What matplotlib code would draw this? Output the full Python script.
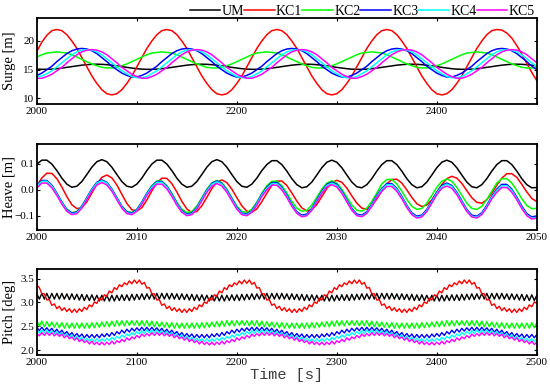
import numpy as np
import matplotlib
matplotlib.use('Agg')
import matplotlib.pyplot as plt
from matplotlib.ticker import MultipleLocator

plt.rcParams['font.family'] = 'Liberation Serif'

labels = ['UM', 'KC1', 'KC2', 'KC3', 'KC4', 'KC5']
colors = ['#000000', '#ff0000', '#00ff00', '#0000ff', '#00ffff', '#ff00ff']

# sample times of the three records
t_surge = np.arange(2000, 2501, 5)
t_heave = np.linspace(2000, 2050, 101)
t_pitch = np.linspace(2000, 2500, 201)

# ---- surge [m], read every 5 s ----
surge_um = [
    15.09, 15.06, 15.06, 15.09, 15.17, 15.28, 15.40, 15.53, 15.66, 15.78, 15.87, 15.93,
    15.95, 15.93, 15.87, 15.78, 15.66, 15.53, 15.40, 15.28, 15.17, 15.09, 15.06, 15.06, 15.09, 15.17, 15.28, 15.40, 15.53, 15.66, 15.78, 15.87, 15.93,
    15.95, 15.93, 15.87, 15.78, 15.66, 15.53, 15.40, 15.28, 15.17, 15.09, 15.06, 15.06, 15.09, 15.17, 15.28, 15.40, 15.53, 15.66, 15.78, 15.87, 15.93,
    15.95, 15.93, 15.87, 15.78, 15.66, 15.53, 15.40, 15.28, 15.17, 15.09, 15.06, 15.06, 15.09, 15.17, 15.28, 15.40, 15.53, 15.66, 15.78, 15.87, 15.93,
    15.95, 15.93, 15.87, 15.78, 15.66, 15.53, 15.40, 15.28, 15.17, 15.09, 15.06, 15.06, 15.09, 15.17, 15.28, 15.40, 15.53, 15.66, 15.78, 15.87, 15.93,
    15.95, 15.93, 15.87, 15.78, 15.66]
surge_kc1 = [
    18.2, 19.8, 21.0, 21.8,
    22.0, 21.8, 21.1, 20.0, 18.7, 17.1, 15.5, 13.9, 12.6, 11.5, 10.8, 10.6, 10.8, 11.5, 12.6, 13.9, 15.5, 17.1, 18.7, 20.0, 21.1, 21.8,
    22.0, 21.8, 21.1, 20.0, 18.7, 17.1, 15.5, 13.9, 12.6, 11.5, 10.8, 10.6, 10.8, 11.5, 12.6, 13.9, 15.5, 17.1, 18.7, 20.0, 21.1, 21.8,
    22.0, 21.8, 21.1, 20.0, 18.7, 17.1, 15.5, 13.9, 12.6, 11.5, 10.8, 10.6, 10.8, 11.5, 12.6, 13.9, 15.5, 17.1, 18.7, 20.0, 21.1, 21.8,
    22.0, 21.8, 21.1, 20.0, 18.7, 17.1, 15.5, 13.9, 12.6, 11.5, 10.8, 10.6, 10.8, 11.5, 12.6, 13.9, 15.5, 17.1, 18.7, 20.0, 21.1, 21.8,
    22.0, 21.9, 21.4, 20.5, 19.2, 17.7, 16.1, 14.5, 13.1]
surge_kc2 = [
    17.2, 17.6, 17.9, 18.0,
    18.1, 18.0, 17.9, 17.6, 17.2, 16.8, 16.4, 16.0, 15.7, 15.4, 15.3, 15.3, 15.4, 15.7, 16.0, 16.4, 16.8, 17.2, 17.6, 17.9, 18.0,
    18.1, 18.0, 17.9, 17.6, 17.2, 16.8, 16.4, 16.0, 15.7, 15.4, 15.3, 15.3, 15.4, 15.7, 16.0, 16.4, 16.8, 17.2, 17.6, 17.9, 18.0,
    18.1, 18.0, 17.9, 17.6, 17.2, 16.8, 16.4, 16.0, 15.7, 15.4, 15.3, 15.3, 15.4, 15.7, 16.0, 16.4, 16.8, 17.2, 17.6, 17.9, 18.0,
    18.1, 18.0, 17.9, 17.6, 17.2, 16.8, 16.4, 16.0, 15.7, 15.4, 15.3, 15.3, 15.4, 15.7, 16.0, 16.4, 16.8, 17.2, 17.6, 17.9, 18.0,
    18.1, 18.0, 17.9, 17.6, 17.2, 16.8, 16.4, 16.0, 15.7, 15.4, 15.3, 15.3, 15.4]
surge_kc3 = [
    14.0, 14.4, 15.0, 15.6, 16.4, 17.1, 17.8, 18.3, 18.6,
    18.7, 18.6, 18.3, 17.8, 17.1, 16.4, 15.6, 15.0, 14.4, 14.0, 13.7, 13.7, 14.0, 14.4, 15.0, 15.6, 16.4, 17.1, 17.8, 18.3, 18.6,
    18.7, 18.6, 18.3, 17.8, 17.1, 16.4, 15.6, 15.0, 14.4, 14.0, 13.7, 13.7, 14.0, 14.4, 15.0, 15.6, 16.4, 17.1, 17.8, 18.3, 18.6,
    18.7, 18.6, 18.3, 17.8, 17.1, 16.4, 15.6, 15.0, 14.4, 14.0, 13.7, 13.7, 14.0, 14.4, 15.0, 15.6, 16.4, 17.1, 17.8, 18.3, 18.6,
    18.7, 18.6, 18.3, 17.8, 17.1, 16.4, 15.6, 15.0, 14.4, 14.0, 13.7, 13.7, 14.0, 14.4, 15.0, 15.6, 16.4, 17.1, 17.8, 18.3, 18.6,
    18.7, 18.6, 18.3, 17.8, 17.1, 16.4, 15.6, 15.0]
surge_kc4 = [
    13.8, 13.9, 14.3, 14.8, 15.5, 16.2, 16.9, 17.6, 18.1, 18.4,
    18.5, 18.4, 18.1, 17.6, 16.9, 16.2, 15.5, 14.8, 14.3, 13.8, 13.6, 13.6, 13.8, 14.3, 14.8, 15.5, 16.2, 16.9, 17.6, 18.1, 18.4,
    18.5, 18.4, 18.1, 17.6, 16.9, 16.2, 15.5, 14.8, 14.3, 13.8, 13.6, 13.6, 13.8, 14.3, 14.8, 15.5, 16.2, 16.9, 17.6, 18.1, 18.4,
    18.5, 18.4, 18.1, 17.6, 16.9, 16.2, 15.5, 14.8, 14.3, 13.8, 13.6, 13.6, 13.8, 14.3, 14.8, 15.5, 16.2, 16.9, 17.6, 18.1, 18.4,
    18.5, 18.4, 18.1, 17.6, 16.9, 16.2, 15.5, 14.8, 14.3, 13.8, 13.6, 13.6, 13.8, 14.3, 14.8, 15.5, 16.2, 16.9, 17.6, 18.1, 18.4,
    18.5, 18.4, 18.1, 17.6, 16.9, 16.2, 15.5]
surge_kc5 = [
    13.5, 13.5, 13.8, 14.2, 14.8, 15.4, 16.2, 16.9, 17.6, 18.1, 18.4,
    18.5, 18.4, 18.1, 17.6, 16.9, 16.2, 15.4, 14.8, 14.2, 13.8, 13.5, 13.5, 13.8, 14.2, 14.8, 15.4, 16.2, 16.9, 17.6, 18.1, 18.4,
    18.5, 18.4, 18.1, 17.6, 16.9, 16.2, 15.4, 14.8, 14.2, 13.8, 13.5, 13.5, 13.8, 14.2, 14.8, 15.4, 16.2, 16.9, 17.6, 18.1, 18.4,
    18.5, 18.4, 18.1, 17.6, 16.9, 16.2, 15.4, 14.8, 14.2, 13.8, 13.5, 13.5, 13.8, 14.2, 14.8, 15.4, 16.2, 16.9, 17.6, 18.1, 18.4,
    18.5, 18.4, 18.1, 17.6, 16.9, 16.2, 15.4, 14.8, 14.2, 13.8, 13.5, 13.5, 13.8, 14.2, 14.8, 15.4, 16.2, 16.9, 17.6, 18.1, 18.4,
    18.5, 18.4, 18.1, 17.6, 16.9, 16.2]

# ---- heave [m], read every 0.5 s ----
heave_um = [
    0.098, 0.113, 0.113, 0.098, 0.073, 0.044, 0.021, 0.009, 0.013, 0.031, 0.058, 0.086, 0.107, 0.115, 0.107, 0.086, 0.058, 0.031, 0.013, 0.009, 0.021, 0.044, 0.073,
    0.098, 0.113, 0.113, 0.098, 0.073, 0.044, 0.021, 0.009, 0.013, 0.031, 0.058, 0.086, 0.107, 0.115, 0.107, 0.086, 0.058, 0.031, 0.013, 0.009, 0.021, 0.044, 0.073,
    0.096, 0.111, 0.111, 0.096, 0.071, 0.042, 0.019, 0.007, 0.011, 0.029, 0.056, 0.084, 0.105, 0.113, 0.105, 0.084, 0.056, 0.029, 0.011, 0.007, 0.019, 0.042, 0.071,
    0.096, 0.111, 0.111, 0.096, 0.071, 0.042, 0.019, 0.007, 0.011, 0.029, 0.056, 0.084, 0.105, 0.113, 0.105, 0.084, 0.056, 0.029, 0.011, 0.007, 0.019, 0.042, 0.071,
    0.096, 0.111, 0.111, 0.096, 0.071, 0.042, 0.019, 0.007, 0.008]
heave_kc1 = [
    0.014, 0.045, 0.063, 0.062, 0.042, 0.010, -0.027, -0.058, -0.073, -0.069, -0.047, -0.013, 0.021, 0.047, 0.056, 0.045, 0.018, -0.018, -0.053, -0.077, -0.082, -0.069, -0.040,
    -0.005, 0.026, 0.044, 0.043, 0.023, -0.009, -0.045, -0.074, -0.088, -0.084, -0.062, -0.030, 0.004, 0.028, 0.037, 0.027, 0.002, -0.031, -0.062, -0.083, -0.087, -0.074, -0.046,
    -0.014, 0.016, 0.033, 0.033, 0.016, -0.013, -0.044, -0.070, -0.082, -0.077, -0.057, -0.027, 0.004, 0.027, 0.036, 0.028, 0.006, -0.024, -0.052, -0.071, -0.075, -0.062, -0.036,
    -0.005, 0.022, 0.039, 0.040, 0.025, -0.001, -0.030, -0.054, -0.065, -0.059, -0.040, -0.011, 0.019, 0.042, 0.051, 0.044, 0.024, -0.004, -0.031, -0.049, -0.052, -0.039, -0.014,
    0.017, 0.044, 0.061, 0.061, 0.047, 0.020, -0.009, -0.034, -0.046]
heave_kc2 = [
    0.015, 0.033, 0.033, 0.015, -0.014, -0.048, -0.075, -0.088, -0.084, -0.063, -0.031, 0.002, 0.026, 0.035, 0.026, 0.002, -0.031, -0.063, -0.084, -0.088, -0.075, -0.048, -0.014,
    0.015, 0.033, 0.033, 0.015, -0.014, -0.048, -0.075, -0.088, -0.084, -0.063, -0.031, 0.002, 0.026, 0.035, 0.026, 0.002, -0.031, -0.063, -0.084, -0.088, -0.075, -0.048, -0.014,
    0.015, 0.032, 0.032, 0.015, -0.013, -0.045, -0.071, -0.083, -0.079, -0.059, -0.029, 0.002, 0.025, 0.034, 0.025, 0.002, -0.029, -0.059, -0.079, -0.083, -0.071, -0.045, -0.013,
    0.022, 0.039, 0.039, 0.022, -0.006, -0.038, -0.064, -0.076, -0.072, -0.052, -0.022, 0.009, 0.032, 0.041, 0.032, 0.009, -0.022, -0.052, -0.072, -0.076, -0.064, -0.038, -0.006,
    0.025, 0.042, 0.042, 0.025, -0.003, -0.035, -0.061, -0.073, -0.072]
heave_kc3 = [
    0.017, 0.035, 0.035, 0.017, -0.014, -0.048, -0.077, -0.090, -0.086, -0.064, -0.031, 0.002, 0.028, 0.037, 0.028, 0.002, -0.031, -0.064, -0.086, -0.090, -0.077, -0.048, -0.014,
    0.013, 0.031, 0.031, 0.013, -0.018, -0.052, -0.081, -0.094, -0.090, -0.068, -0.035, -0.002, 0.024, 0.033, 0.024, -0.002, -0.035, -0.068, -0.090, -0.094, -0.081, -0.052, -0.018,
    0.009, 0.027, 0.027, 0.009, -0.022, -0.056, -0.085, -0.098, -0.094, -0.072, -0.039, -0.006, 0.020, 0.029, 0.020, -0.006, -0.039, -0.072, -0.094, -0.098, -0.085, -0.056, -0.022,
    0.005, 0.023, 0.023, 0.005, -0.026, -0.060, -0.089, -0.102, -0.098, -0.076, -0.043, -0.010, 0.016, 0.025, 0.016, -0.010, -0.043, -0.076, -0.098, -0.102, -0.089, -0.060, -0.026,
    0.002, 0.020, 0.020, 0.002, -0.029, -0.063, -0.092, -0.105, -0.101]
heave_kc4 = [
    0.014, 0.032, 0.032, 0.014, -0.017, -0.051, -0.080, -0.093, -0.089, -0.067, -0.034, -0.001, 0.025, 0.034, 0.025, -0.001, -0.034, -0.067, -0.089, -0.093, -0.080, -0.051, -0.017,
    0.010, 0.028, 0.028, 0.010, -0.021, -0.055, -0.084, -0.097, -0.093, -0.071, -0.038, -0.005, 0.021, 0.030, 0.021, -0.005, -0.038, -0.071, -0.093, -0.097, -0.084, -0.055, -0.021,
    0.005, 0.023, 0.023, 0.005, -0.026, -0.060, -0.089, -0.102, -0.098, -0.076, -0.043, -0.010, 0.016, 0.025, 0.016, -0.010, -0.043, -0.076, -0.098, -0.102, -0.089, -0.060, -0.026,
    0.001, 0.019, 0.019, 0.001, -0.030, -0.064, -0.093, -0.106, -0.102, -0.080, -0.047, -0.014, 0.012, 0.021, 0.012, -0.014, -0.047, -0.080, -0.102, -0.106, -0.093, -0.064, -0.030,
    -0.003, 0.015, 0.015, -0.003, -0.034, -0.068, -0.097, -0.110, -0.106]
heave_kc5 = [
    0.007, 0.025, 0.025, 0.007, -0.022, -0.056, -0.083, -0.096, -0.092, -0.071, -0.039, -0.006, 0.018, 0.027, 0.018, -0.006, -0.039, -0.071, -0.092, -0.096, -0.083, -0.056, -0.022,
    0.003, 0.021, 0.021, 0.003, -0.026, -0.060, -0.087, -0.100, -0.096, -0.075, -0.043, -0.010, 0.014, 0.023, 0.014, -0.010, -0.043, -0.075, -0.096, -0.100, -0.087, -0.060, -0.026,
    -0.001, 0.017, 0.017, -0.001, -0.030, -0.064, -0.091, -0.104, -0.100, -0.079, -0.047, -0.014, 0.010, 0.019, 0.010, -0.014, -0.047, -0.079, -0.100, -0.104, -0.091, -0.064, -0.030,
    -0.006, 0.012, 0.012, -0.006, -0.035, -0.069, -0.096, -0.109, -0.105, -0.084, -0.052, -0.019, 0.005, 0.014, 0.005, -0.019, -0.052, -0.084, -0.105, -0.109, -0.096, -0.069, -0.035,
    -0.010, 0.008, 0.008, -0.010, -0.039, -0.073, -0.100, -0.113, -0.109]

# ---- pitch [deg], read every 2.5 s ----
pitch_um = [
    3.18, 3.07, 3.19, 3.07, 3.19, 3.07,
    3.19, 3.07, 3.19, 3.07, 3.19, 3.07, 3.18, 3.06, 3.18, 3.06, 3.17, 3.05, 3.17, 3.04, 3.16, 3.04, 3.16, 3.04, 3.15, 3.03, 3.15, 3.03,
    3.15, 3.03, 3.15, 3.03, 3.15, 3.04, 3.16, 3.04, 3.16, 3.04, 3.17, 3.05, 3.17, 3.06, 3.18, 3.06, 3.18, 3.07, 3.19, 3.07, 3.19, 3.07,
    3.19, 3.07, 3.19, 3.07, 3.19, 3.07, 3.18, 3.06, 3.18, 3.06, 3.17, 3.05, 3.17, 3.04, 3.16, 3.04, 3.16, 3.04, 3.15, 3.03, 3.15, 3.03,
    3.15, 3.03, 3.15, 3.03, 3.15, 3.04, 3.16, 3.04, 3.16, 3.04, 3.17, 3.05, 3.17, 3.06, 3.18, 3.06, 3.18, 3.07, 3.19, 3.07, 3.19, 3.07,
    3.19, 3.07, 3.19, 3.07, 3.19, 3.07, 3.18, 3.06, 3.18, 3.06, 3.17, 3.05, 3.17, 3.04, 3.16, 3.04, 3.16, 3.04, 3.15, 3.03, 3.15, 3.03,
    3.15, 3.03, 3.15, 3.03, 3.15, 3.04, 3.16, 3.04, 3.16, 3.04, 3.17, 3.05, 3.17, 3.06, 3.18, 3.06, 3.18, 3.07, 3.19, 3.07, 3.19, 3.07,
    3.19, 3.07, 3.19, 3.07, 3.19, 3.07, 3.18, 3.06, 3.18, 3.06, 3.17, 3.05, 3.17, 3.04, 3.16, 3.04, 3.16, 3.04, 3.15, 3.03, 3.15, 3.03,
    3.15, 3.03, 3.15, 3.03, 3.15, 3.04, 3.16, 3.04, 3.16, 3.04, 3.17, 3.05, 3.17, 3.06, 3.18, 3.06, 3.18, 3.07, 3.19, 3.07, 3.19, 3.07,
    3.19, 3.07, 3.19, 3.07, 3.19, 3.07, 3.18, 3.06, 3.18, 3.06, 3.17, 3.05, 3.17, 3.04, 3.16, 3.04, 3.16, 3.04, 3.15]
pitch_kc1 = [
    3.36, 3.31, 3.18, 3.18, 3.05, 3.06, 2.94, 2.97, 2.87, 2.92, 2.83, 2.89, 2.81, 2.87, 2.79,
    2.86, 2.79, 2.87, 2.81, 2.90, 2.85, 2.95, 2.91, 3.01, 2.98, 3.09, 3.05, 3.16, 3.13, 3.24, 3.20, 3.31, 3.27, 3.37, 3.33, 3.41, 3.37,
    3.45, 3.39, 3.47, 3.40, 3.47, 3.38, 3.42, 3.30, 3.31, 3.18, 3.18, 3.05, 3.06, 2.94, 2.97, 2.87, 2.92, 2.83, 2.89, 2.81, 2.87, 2.79,
    2.86, 2.79, 2.87, 2.81, 2.90, 2.85, 2.95, 2.91, 3.01, 2.98, 3.09, 3.05, 3.16, 3.13, 3.24, 3.20, 3.31, 3.27, 3.37, 3.33, 3.41, 3.37,
    3.45, 3.39, 3.47, 3.40, 3.47, 3.38, 3.42, 3.30, 3.31, 3.18, 3.18, 3.05, 3.06, 2.94, 2.97, 2.87, 2.92, 2.83, 2.89, 2.81, 2.87, 2.79,
    2.86, 2.79, 2.87, 2.81, 2.90, 2.85, 2.95, 2.91, 3.01, 2.98, 3.09, 3.05, 3.16, 3.13, 3.24, 3.20, 3.31, 3.27, 3.37, 3.33, 3.41, 3.37,
    3.45, 3.39, 3.47, 3.40, 3.47, 3.38, 3.42, 3.30, 3.31, 3.18, 3.18, 3.05, 3.06, 2.94, 2.97, 2.87, 2.92, 2.83, 2.89, 2.81, 2.87, 2.79,
    2.86, 2.79, 2.87, 2.81, 2.90, 2.85, 2.95, 2.91, 3.01, 2.98, 3.09, 3.05, 3.16, 3.13, 3.24, 3.20, 3.31, 3.27, 3.37, 3.33, 3.41, 3.37,
    3.45, 3.39, 3.47, 3.40, 3.47, 3.38, 3.42, 3.30, 3.31, 3.18, 3.18, 3.05, 3.06, 2.94, 2.97, 2.87, 2.92, 2.83, 2.89, 2.81, 2.87, 2.79,
    2.86, 2.79, 2.87, 2.81, 2.90, 2.85, 2.95, 2.91, 3.01, 2.98]
pitch_kc2 = [
    2.62, 2.50, 2.61, 2.49, 2.60, 2.49, 2.59, 2.48, 2.58, 2.47, 2.58, 2.46, 2.57, 2.46, 2.57, 2.46, 2.57, 2.46, 2.57,
    2.46, 2.57, 2.46, 2.58, 2.47, 2.58, 2.48, 2.59, 2.49, 2.60, 2.49, 2.61, 2.50, 2.62, 2.51, 2.62, 2.51, 2.62, 2.52,
    2.62, 2.52, 2.62, 2.51, 2.62, 2.51, 2.62, 2.50, 2.61, 2.49, 2.60, 2.49, 2.59, 2.48, 2.58, 2.47, 2.58, 2.46, 2.57, 2.46, 2.57, 2.46,
    2.57, 2.46, 2.57, 2.46, 2.57, 2.46, 2.58, 2.47, 2.58, 2.48, 2.59, 2.49, 2.60, 2.49, 2.61, 2.50, 2.62, 2.51, 2.62, 2.51, 2.62, 2.52,
    2.62, 2.52, 2.62, 2.51, 2.62, 2.51, 2.62, 2.50, 2.61, 2.49, 2.60, 2.49, 2.59, 2.48, 2.58, 2.47, 2.58, 2.46, 2.57, 2.46, 2.57, 2.46,
    2.57, 2.46, 2.57, 2.46, 2.57, 2.46, 2.58, 2.47, 2.58, 2.48, 2.59, 2.49, 2.60, 2.49, 2.61, 2.50, 2.62, 2.51, 2.62, 2.51, 2.62, 2.52,
    2.62, 2.52, 2.62, 2.51, 2.62, 2.51, 2.62, 2.50, 2.61, 2.49, 2.60, 2.49, 2.59, 2.48, 2.58, 2.47, 2.58, 2.46, 2.57, 2.46, 2.57, 2.46,
    2.57, 2.46, 2.57, 2.46, 2.57, 2.46, 2.58, 2.47, 2.58, 2.48, 2.59, 2.49, 2.60, 2.49, 2.61, 2.50, 2.62, 2.51, 2.62, 2.51, 2.62, 2.52,
    2.62, 2.52, 2.62, 2.51, 2.62, 2.51, 2.62, 2.50, 2.61, 2.49, 2.60, 2.49, 2.59, 2.48, 2.58, 2.47, 2.58, 2.46, 2.57, 2.46, 2.57, 2.46,
    2.57, 2.46, 2.57, 2.46, 2.57, 2.46, 2.58, 2.47, 2.58]
pitch_kc3 = [
    2.48, 2.41, 2.48, 2.41, 2.47, 2.40, 2.46, 2.38, 2.44, 2.36, 2.42, 2.34, 2.39, 2.31, 2.37, 2.29, 2.35, 2.28, 2.34, 2.26, 2.33, 2.26,
    2.33, 2.26, 2.33, 2.26, 2.34, 2.28, 2.35, 2.29, 2.37, 2.31, 2.39, 2.34, 2.42, 2.36, 2.44, 2.38, 2.46, 2.40, 2.47, 2.41, 2.48, 2.41,
    2.48, 2.41, 2.48, 2.41, 2.47, 2.40, 2.46, 2.38, 2.44, 2.36, 2.42, 2.34, 2.39, 2.31, 2.37, 2.29, 2.35, 2.28, 2.34, 2.26, 2.33, 2.26,
    2.33, 2.26, 2.33, 2.26, 2.34, 2.28, 2.35, 2.29, 2.37, 2.31, 2.39, 2.34, 2.42, 2.36, 2.44, 2.38, 2.46, 2.40, 2.47, 2.41, 2.48, 2.41,
    2.48, 2.41, 2.48, 2.41, 2.47, 2.40, 2.46, 2.38, 2.44, 2.36, 2.42, 2.34, 2.39, 2.31, 2.37, 2.29, 2.35, 2.28, 2.34, 2.26, 2.33, 2.26,
    2.33, 2.26, 2.33, 2.26, 2.34, 2.28, 2.35, 2.29, 2.37, 2.31, 2.39, 2.34, 2.42, 2.36, 2.44, 2.38, 2.46, 2.40, 2.47, 2.41, 2.48, 2.41,
    2.48, 2.41, 2.48, 2.41, 2.47, 2.40, 2.46, 2.38, 2.44, 2.36, 2.42, 2.34, 2.39, 2.31, 2.37, 2.29, 2.35, 2.28, 2.34, 2.26, 2.33, 2.26,
    2.33, 2.26, 2.33, 2.26, 2.34, 2.28, 2.35, 2.29, 2.37, 2.31, 2.39, 2.34, 2.42, 2.36, 2.44, 2.38, 2.46, 2.40, 2.47, 2.41, 2.48, 2.41,
    2.48, 2.41, 2.48, 2.41, 2.47, 2.40, 2.46, 2.38, 2.44, 2.36, 2.42, 2.34, 2.39, 2.31, 2.37, 2.29, 2.35, 2.28, 2.34, 2.26, 2.33, 2.26,
    2.33, 2.26, 2.33]
pitch_kc4 = [
    2.42, 2.36,
    2.42, 2.36, 2.42, 2.35, 2.41, 2.34, 2.39, 2.32, 2.37, 2.30, 2.34, 2.27, 2.32, 2.25, 2.29, 2.22, 2.27, 2.20, 2.25, 2.19, 2.24, 2.18,
    2.24, 2.18, 2.24, 2.19, 2.25, 2.20, 2.27, 2.22, 2.29, 2.25, 2.32, 2.27, 2.34, 2.30, 2.37, 2.32, 2.39, 2.34, 2.41, 2.35, 2.42, 2.36,
    2.42, 2.36, 2.42, 2.35, 2.41, 2.34, 2.39, 2.32, 2.37, 2.30, 2.34, 2.27, 2.32, 2.25, 2.29, 2.22, 2.27, 2.20, 2.25, 2.19, 2.24, 2.18,
    2.24, 2.18, 2.24, 2.19, 2.25, 2.20, 2.27, 2.22, 2.29, 2.25, 2.32, 2.27, 2.34, 2.30, 2.37, 2.32, 2.39, 2.34, 2.41, 2.35, 2.42, 2.36,
    2.42, 2.36, 2.42, 2.35, 2.41, 2.34, 2.39, 2.32, 2.37, 2.30, 2.34, 2.27, 2.32, 2.25, 2.29, 2.22, 2.27, 2.20, 2.25, 2.19, 2.24, 2.18,
    2.24, 2.18, 2.24, 2.19, 2.25, 2.20, 2.27, 2.22, 2.29, 2.25, 2.32, 2.27, 2.34, 2.30, 2.37, 2.32, 2.39, 2.34, 2.41, 2.35, 2.42, 2.36,
    2.42, 2.36, 2.42, 2.35, 2.41, 2.34, 2.39, 2.32, 2.37, 2.30, 2.34, 2.27, 2.32, 2.25, 2.29, 2.22, 2.27, 2.20, 2.25, 2.19, 2.24, 2.18,
    2.24, 2.18, 2.24, 2.19, 2.25, 2.20, 2.27, 2.22, 2.29, 2.25, 2.32, 2.27, 2.34, 2.30, 2.37, 2.32, 2.39, 2.34, 2.41, 2.35, 2.42, 2.36,
    2.42, 2.36, 2.42, 2.35, 2.41, 2.34, 2.39, 2.32, 2.37, 2.30, 2.34, 2.27, 2.32, 2.25, 2.29, 2.22, 2.27, 2.20, 2.25, 2.19, 2.24, 2.18,
    2.24]
pitch_kc5 = [
    2.35, 2.30, 2.37, 2.31,
    2.37, 2.31, 2.37, 2.30, 2.35, 2.29, 2.34, 2.26, 2.31, 2.24, 2.28, 2.21, 2.26, 2.18, 2.23, 2.16, 2.20, 2.13, 2.19, 2.12, 2.17, 2.11,
    2.17, 2.11, 2.17, 2.12, 2.19, 2.13, 2.20, 2.16, 2.23, 2.18, 2.26, 2.21, 2.28, 2.24, 2.31, 2.26, 2.34, 2.29, 2.35, 2.30, 2.37, 2.31,
    2.37, 2.31, 2.37, 2.30, 2.35, 2.29, 2.34, 2.26, 2.31, 2.24, 2.28, 2.21, 2.26, 2.18, 2.23, 2.16, 2.20, 2.13, 2.19, 2.12, 2.17, 2.11,
    2.17, 2.11, 2.17, 2.12, 2.19, 2.13, 2.20, 2.16, 2.23, 2.18, 2.26, 2.21, 2.28, 2.24, 2.31, 2.26, 2.34, 2.29, 2.35, 2.30, 2.37, 2.31,
    2.37, 2.31, 2.37, 2.30, 2.35, 2.29, 2.34, 2.26, 2.31, 2.24, 2.28, 2.21, 2.26, 2.18, 2.23, 2.16, 2.20, 2.13, 2.19, 2.12, 2.17, 2.11,
    2.17, 2.11, 2.17, 2.12, 2.19, 2.13, 2.20, 2.16, 2.23, 2.18, 2.26, 2.21, 2.28, 2.24, 2.31, 2.26, 2.34, 2.29, 2.35, 2.30, 2.37, 2.31,
    2.37, 2.31, 2.37, 2.30, 2.35, 2.29, 2.34, 2.26, 2.31, 2.24, 2.28, 2.21, 2.26, 2.18, 2.23, 2.16, 2.20, 2.13, 2.19, 2.12, 2.17, 2.11,
    2.17, 2.11, 2.17, 2.12, 2.19, 2.13, 2.20, 2.16, 2.23, 2.18, 2.26, 2.21, 2.28, 2.24, 2.31, 2.26, 2.34, 2.29, 2.35, 2.30, 2.37, 2.31,
    2.37, 2.31, 2.37, 2.30, 2.35, 2.29, 2.34, 2.26, 2.31, 2.24, 2.28, 2.21, 2.26, 2.18, 2.23, 2.16, 2.20, 2.13, 2.19, 2.12, 2.17]

surge = [surge_um, surge_kc1, surge_kc2, surge_kc3, surge_kc4, surge_kc5]
heave = [heave_um, heave_kc1, heave_kc2, heave_kc3, heave_kc4, heave_kc5]
pitch = [pitch_um, pitch_kc1, pitch_kc2, pitch_kc3, pitch_kc4, pitch_kc5]

fig = plt.figure(figsize=(5.5, 3.84), dpi=100)
ax1 = fig.add_axes([0.067, 0.729, 0.909, 0.224])
ax2 = fig.add_axes([0.067, 0.401, 0.909, 0.224])
ax3 = fig.add_axes([0.067, 0.0755, 0.909, 0.224])

for ys, lab, c in zip(surge, labels, colors):
    ax1.plot(t_surge, ys, color=c, lw=1.1, label=lab)
for ys, c in zip(heave, colors):
    ax2.plot(t_heave, ys, color=c, lw=1.1)
for ys, c in zip(pitch, colors):
    ax3.plot(t_pitch, ys, color=c, lw=1.0)

ax1.set_xlim(2000, 2500)
ax1.set_ylim(9, 24)
ax1.xaxis.set_major_locator(MultipleLocator(200))
ax1.xaxis.set_minor_locator(MultipleLocator(100))
ax1.set_yticks([10, 15, 20])
ax1.set_ylabel('Surge [m]', fontsize=10.5)

ax2.set_xlim(2000, 2050)
ax2.set_ylim(-0.155, 0.175)
ax2.xaxis.set_major_locator(MultipleLocator(10))
ax2.set_yticks([-0.1, 0.0, 0.1])
ax2.set_yticklabels(['\u22120.1', '0.0', '0.1'])
ax2.set_ylabel('Heave [m]', fontsize=10.5)

ax3.set_xlim(2000, 2500)
ax3.set_ylim(1.9, 3.7)
ax3.xaxis.set_major_locator(MultipleLocator(100))
ax3.set_yticks([2.0, 2.5, 3.0, 3.5])
ax3.set_ylabel('Pitch [deg]', fontsize=10.5)
ax3.set_xlabel('Time [s]', fontsize=11, family='Liberation Mono',
               color='#3a3a3a', labelpad=1)

for ax in (ax1, ax2, ax3):
    ax.tick_params(which='both', direction='in', top=True, right=True,
                   labelsize=8, length=2.5, width=0.8, pad=2)
    for sp in ax.spines.values():
        sp.set_linewidth(1.3)
    ax.yaxis.set_label_coords(-0.042, 0.5)

fig.legend(*ax1.get_legend_handles_labels(), loc='upper right',
           bbox_to_anchor=(0.995, 1.02), ncol=6, frameon=False, fontsize=10,
           handlelength=2.2, handletextpad=0.1, columnspacing=0.0)

fig.savefig('out.png', dpi=100)
